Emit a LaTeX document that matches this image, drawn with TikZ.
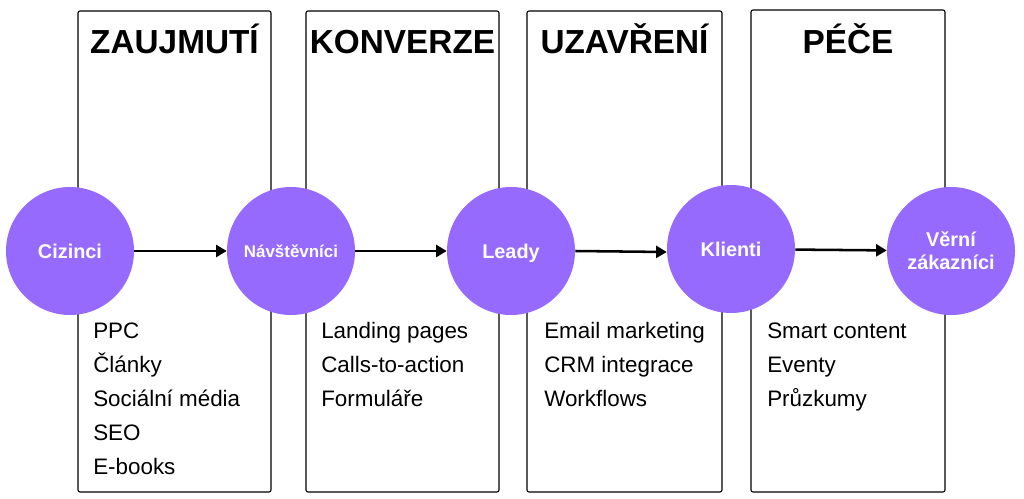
\documentclass[tikz,border=0pt]{standalone}
\usepackage{fontspec}
\setmainfont{Liberation Sans}
\usetikzlibrary{arrows.meta}
\definecolor{fialova}{RGB}{150,106,252}
\tikzset{
  sloupec/.style={draw,line width=0.8pt,rounded corners=1.5pt,minimum width=144.75pt,minimum height=360.75pt,inner sep=0pt},
  nadpis/.style={font=\fontsize{25}{30}\selectfont\bfseries,inner sep=0pt,anchor=base},
  polozka/.style={font=\fontsize{16.8}{20}\selectfont,inner sep=0pt,anchor=base west},
  faze/.style={circle,fill=fialova,text=white,minimum size=96pt,inner sep=0pt,align=center,font=\fontsize{14.9}{17.25}\selectfont\bfseries},
  tok/.style={line width=1.9pt,-{Triangle[length=8pt,width=9pt]}}
}
\begin{document}
\begin{tikzpicture}[x=0.75pt,y=-0.75pt]
            \useasboundingbox (0,0) rectangle (1024,499);
            % sloupce
            \node[sloupec] (s1) at (174.5, 251.5) {};
            \node[sloupec] (s2) at (402.5, 251.5) {};
            \node[sloupec,minimum width=146.25pt] (s3) at (624.5, 251.5) {};
            \node[sloupec,minimum width=145.5pt,minimum height=361.5pt] (s4) at (848, 251) {};

            \node[nadpis] (n1) at (174.5, 54) {ZAUJMUTÍ};
            \node[nadpis] (n2) at (402.5, 54) {KONVERZE};
            \node[nadpis] (n3) at (624.5, 54) {UZAVŘENÍ};
            \node[nadpis] (n4) at (848, 54) {PÉČE};

            % polozky
            \foreach \t [count=\i] in {PPC, Články, Sociální média, SEO, E-books}
                \node[polozka] (p1-\i) at (93, 304+34*\i) {\t};
            \foreach \t [count=\i] in {Landing pages, Calls-to-action, Formuláře}
                \node[polozka] (p2-\i) at (321, 304+34*\i) {\t};
            \foreach \t [count=\i] in {Email marketing, CRM integrace, Workflows}
                \node[polozka] (p3-\i) at (544, 304+34*\i) {\t};
            \foreach \t [count=\i] in {Smart content, Eventy, Průzkumy}
                \node[polozka] (p4-\i) at (767, 304+34*\i) {\t};

            % faze
            \node[faze] (A) at (70, 251) {Cizinci};
            \node[faze,font=\fontsize{12.7}{15}\selectfont\bfseries] (B) at (291, 251) {Návštěvníci};
            \node[faze,text depth=0pt] (C) at (511, 251) {Leady};
            \node[faze] (D) at (731, 249) {Klienti};
            \node[faze] (E) at (951, 251) {Věrní\\zákazníci};

            \draw[tok] (A) to (B);
            \draw[tok] (B) to (C);
            \draw[tok] (C.east) to (D.west |- 0,252);
            \draw[tok] (D) to (E);
        \end{tikzpicture}
\end{document}
